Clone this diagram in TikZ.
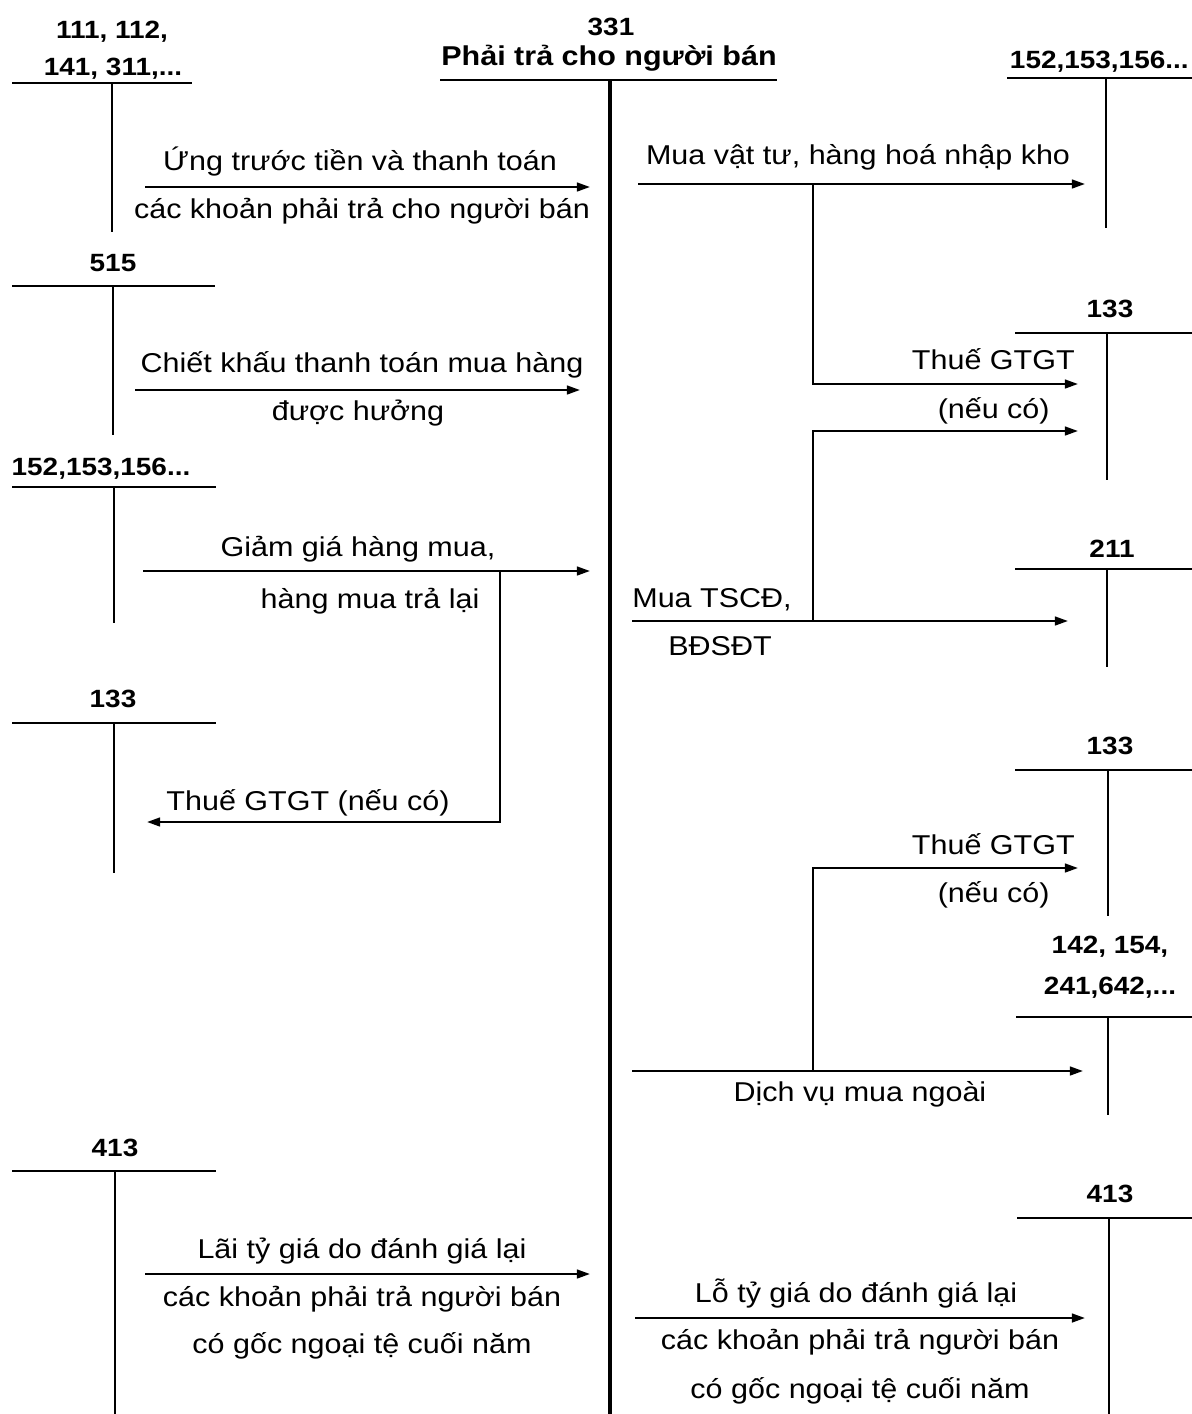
\documentclass[tikz,border=0pt]{standalone}
\usepackage{fontspec}
\setmainfont{Liberation Sans}[FakeStretch=1.12]
\usetikzlibrary{arrows.meta}
\newcommand\tacct[6]{%
  \coordinate (#1-l) at (#2,#4);
  \coordinate (#1-r) at (#3,#4);
  \coordinate (#1-t) at (#5,#4);
  \coordinate (#1-b) at (#5,#6);
  \draw[tline] (#1-l) -- (#1-r);
  \draw[tline] (#1-t) -- (#1-b);}
\begin{document}
\begin{tikzpicture}[x=0.02cm,y=-0.02cm,
  lbl/.style={font=\fontsize{15.5}{18}\selectfont, inner sep=0pt, anchor=base},
  acc/.style={font=\fontsize{14.2}{16}\selectfont\bfseries, inner sep=0pt, anchor=base},
  ttl/.style={font=\fontsize{15.5}{18}\selectfont\bfseries, inner sep=0pt, anchor=base},
  tline/.style={line width=1.25pt},
  mainline/.style={line width=2.1pt},
  arr/.style={line width=1.25pt, -{Triangle[length=7.5pt,width=5pt]}}]
\path[use as bounding box] (0,0) rectangle (1192,1414);

% ---- central account 331
\node[acc] (c331) at (611,35) {331};
\node[ttl] (c331t) at (609,65) {Phải trả cho người bán};
\coordinate (m-l) at (440,80);
\coordinate (m-r) at (777,80);
\coordinate (m-t) at (610,80);
\coordinate (m-b) at (610,1414);
\draw[tline] (m-l) -- (m-r);
\draw[mainline] (m-t) -- (m-b);

% ---- left accounts
\node[acc] (L1a) at (112,38) {111, 112,};
\node[acc] (L1b) at (113,75) {141, 311,...};
\tacct{L1}{12}{192}{83}{112}{232}

\node[acc] (L2a) at (113,271) {515};
\tacct{L2}{12}{215}{286}{113}{435}

\node[acc] (L3a) at (101,475) {152,153,156...};
\tacct{L3}{12}{216}{487}{114}{623}

\node[acc] (L4a) at (113,707) {133};
\tacct{L4}{12}{216}{723}{114}{873}

\node[acc] (L5a) at (115,1156) {413};
\tacct{L5}{12}{216}{1171}{115}{1414}

% ---- right accounts
\node[acc, anchor=base east] (R1a) at (1189,68) {152,153,156...};
\tacct{R1}{1007}{1192}{78}{1106}{228}

\node[acc] (R2a) at (1110,317) {133};
\tacct{R2}{1015}{1192}{333}{1107}{480}

\node[acc] (R3a) at (1112,557) {211};
\tacct{R3}{1015}{1192}{569}{1107}{667}

\node[acc] (R4a) at (1110,754) {133};
\tacct{R4}{1015}{1192}{770}{1108}{916}

\node[acc] (R5a) at (1110,953) {142, 154,};
\node[acc] (R5b) at (1110,994) {241,642,...};
\tacct{R5}{1016}{1192}{1017}{1108}{1115}

\node[acc] (R6a) at (1110,1202) {413};
\tacct{R6}{1017}{1192}{1218}{1109}{1414}

% ---- left arrows
\coordinate (a1s) at (145,187); \coordinate (a1e) at (590,187);
\draw[arr] (a1s) -- (a1e);
\node[lbl] (t1a) at (360,170) {Ứng trước tiền và thanh toán};
\node[lbl] (t1b) at (362,218) {các khoản phải trả cho người bán};

\coordinate (a2s) at (135,390); \coordinate (a2e) at (580,390);
\draw[arr] (a2s) -- (a2e);
\node[lbl] (t2a) at (362,372) {Chiết khấu thanh toán mua hàng};
\node[lbl] (t2b) at (358,420) {được hưởng};

\coordinate (a3s) at (143,571); \coordinate (a3e) at (590,571);
\draw[arr] (a3s) -- (a3e);
\node[lbl] (t3a) at (358,556) {Giảm giá hàng mua,};
\node[lbl] (t3b) at (370,608) {hàng mua trả lại};
\coordinate (a3k) at (500,571); \coordinate (a3t) at (147,822);
\draw[arr] (a3k) |- (a3t);
\node[lbl] (t3c) at (308,810) {Thuế GTGT (nếu có)};

\coordinate (a7s) at (145,1274); \coordinate (a7e) at (590,1274);
\draw[arr] (a7s) -- (a7e);
\node[lbl] (t7a) at (362,1258) {Lãi tỷ giá do đánh giá lại};
\node[lbl] (t7b) at (362,1306) {các khoản phải trả người bán};
\node[lbl] (t7c) at (362,1353) {có gốc ngoại tệ cuối năm};

% ---- right arrows
\coordinate (a4s) at (638,184); \coordinate (a4e) at (1085,184);
\draw[arr] (a4s) -- (a4e);
\node[lbl] (t4a) at (858,164) {Mua vật tư, hàng hoá nhập kho};
\coordinate (a4k) at (813,184); \coordinate (a4t) at (1078,384);
\draw[arr] (a4k) |- (a4t);
\node[lbl, anchor=base east] (t4b) at (1075,369) {Thuế GTGT};
\node[lbl, anchor=base east] (t4c) at (1050,418) {(nếu có)};

\coordinate (a5s) at (632,621); \coordinate (a5e) at (1068,621);
\draw[arr] (a5s) -- (a5e);
\node[lbl, anchor=base west] (t5a) at (632,607) {Mua TSCĐ,};
\node[lbl, anchor=base west] (t5b) at (668,655) {BĐSĐT};
\coordinate (a5k) at (813,621); \coordinate (a5t) at (1078,431);
\draw[arr] (a5k) |- (a5t);

\coordinate (a6s) at (632,1071); \coordinate (a6e) at (1083,1071);
\draw[arr] (a6s) -- (a6e);
\node[lbl] (t6a) at (860,1101) {Dịch vụ mua ngoài};
\coordinate (a6k) at (813,1071); \coordinate (a6t) at (1078,868);
\draw[arr] (a6k) |- (a6t);
\node[lbl, anchor=base east] (t6b) at (1075,854) {Thuế GTGT};
\node[lbl, anchor=base east] (t6c) at (1050,902) {(nếu có)};

\coordinate (a8s) at (635,1318); \coordinate (a8e) at (1085,1318);
\draw[arr] (a8s) -- (a8e);
\node[lbl] (t8a) at (856,1302) {Lỗ tỷ giá do đánh giá lại};
\node[lbl] (t8b) at (860,1349) {các khoản phải trả người bán};
\node[lbl] (t8c) at (860,1398) {có gốc ngoại tệ cuối năm};
\end{tikzpicture}
\end{document}
